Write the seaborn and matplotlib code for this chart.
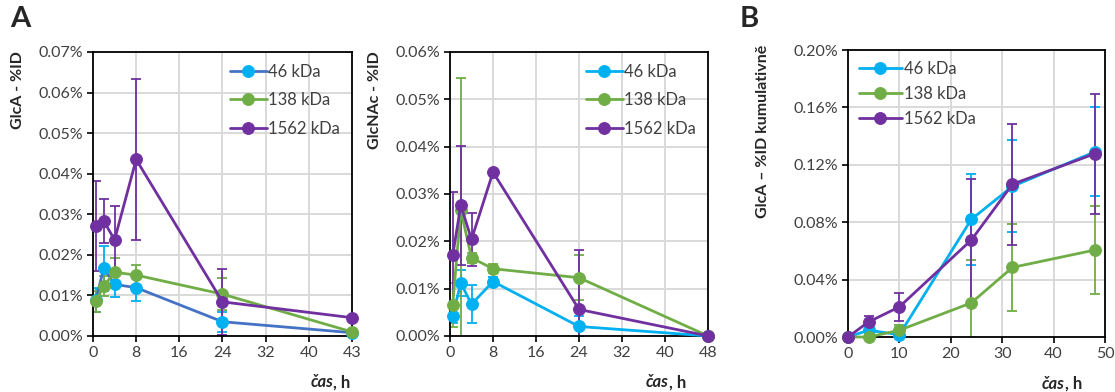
import numpy as np
import pandas as pd
import matplotlib
matplotlib.use("Agg")
import matplotlib.pyplot as plt
import seaborn as sns
from matplotlib.ticker import FuncFormatter, MultipleLocator

# ---------------- data (values in % ID) ----------------
labels = ["46 kDa", "138 kDa", "1562 kDa"]

t_a = [0.5, 2, 4, 8, 24, 48]
glca_46 = [0.0088, 0.0167, 0.0127, 0.0119, 0.0035, 0.0008]
glca_46_err = [0.0030, 0.0055, 0.0030, 0.0034, 0.0025, 0.0002]
glca_138 = [0.0085, 0.0123, 0.0157, 0.0150, 0.0103, 0.0010]
glca_138_err = [0.0025, 0.0025, 0.0035, 0.0025, 0.0040, 0.0002]
glca_1562 = [0.0271, 0.0283, 0.0237, 0.0435, 0.0084, 0.0045]
glca_1562_err = [0.0112, 0.0055, 0.0083, 0.0199, 0.0082, 0.0002]

glcnac_46 = [0.0042, 0.0112, 0.0067, 0.0115, 0.0020, 0.0000]
glcnac_46_err = [0.0015, 0.0028, 0.0040, 0.0010, 0.0023, 0.0000]
glcnac_138 = [0.0065, 0.0266, 0.0165, 0.0142, 0.0123, 0.0000]
glcnac_138_err = [0.0046, 0.0279, 0.0010, 0.0010, 0.0047, 0.0000]
glcnac_1562 = [0.0170, 0.0276, 0.0204, 0.0346, 0.0056, 0.0000]
glcnac_1562_err = [0.0134, 0.0126, 0.0056, 0.0003, 0.0125, 0.0000]

t_b = [0, 4, 10, 24, 32, 48]
cum_46 = [0.0, 0.0047, 0.0016, 0.0820, 0.1050, 0.1290]
cum_46_err = [0.0, 0.0020, 0.0010, 0.0318, 0.0320, 0.0310]
cum_138 = [0.0, 0.0000, 0.0047, 0.0238, 0.0485, 0.0606]
cum_138_err = [0.0, 0.0005, 0.0040, 0.0302, 0.0303, 0.0308]
cum_1562 = [0.0, 0.0105, 0.0210, 0.0676, 0.1065, 0.1277]
cum_1562_err = [0.0, 0.0042, 0.0100, 0.0424, 0.0422, 0.0420]

# ---------------- style ----------------
sns.set_theme(style="white")
plt.rcParams["font.family"] = ["Lato", "DejaVu Sans"]

purple = "#7030A0"
green = "#70AD47"
cyan = "#00B0F0"
blue = "#4472C4"


def draw(ax, t, series, errs, line_cols, face_cols, err_cols):
    for vals, err, name, lc, fc, ec in zip(series, errs, labels, line_cols, face_cols, err_cols):
        ax.errorbar(t, vals, yerr=err, fmt="none", ecolor=ec, elinewidth=1.3,
                    capsize=3.5, capthick=1.3, zorder=2)
        sns.lineplot(x=t, y=vals, ax=ax, color=lc, linewidth=2, marker="o",
                     markersize=8.5, markerfacecolor=fc, markeredgecolor=fc,
                     label=name, clip_on=False, zorder=3)


def style(ax, xmax, xstep, ymax, ystep, xticklabels=None):
    ax.set_xlim(0, xmax)
    ax.set_ylim(0, ymax)
    ax.xaxis.set_major_locator(MultipleLocator(xstep))
    ax.yaxis.set_major_locator(MultipleLocator(ystep))
    ax.yaxis.set_major_formatter(FuncFormatter(lambda v, p: f"{v:.2f}%"))
    if xticklabels is not None:
        ax.set_xticks(np.arange(0, xmax + 0.1, xstep))
        ax.set_xticklabels(xticklabels)
    ax.grid(True, color="#D9D9D9", linewidth=1.4)
    ax.set_axisbelow(True)
    for s in ax.spines.values():
        s.set_color("black")
        s.set_linewidth(1.3)
    ax.tick_params(axis="both", direction="out", length=4, width=1.2,
                   color="black", labelsize=11.5, labelcolor="#404040",
                   left=True, bottom=True, pad=3)
    ax.set_xlabel("")
    ax.set_ylabel("")


fig = plt.figure(figsize=(11.15, 3.92), dpi=100)
ax1 = fig.add_axes([0.0834, 0.143, 0.2323, 0.7245])
ax2 = fig.add_axes([0.4036, 0.143, 0.2314, 0.7245])
ax3 = fig.add_axes([0.7605, 0.1403, 0.2305, 0.732])

draw(ax1, t_a, [glca_46, glca_138, glca_1562],
     [glca_46_err, glca_138_err, glca_1562_err],
     [blue, green, purple], [cyan, green, purple], [cyan, green, purple])
style(ax1, 48, 8, 0.07, 0.01, ["0", "8", "16", "24", "32", "40", "43"])
ax1.legend(loc="upper right", frameon=False, fontsize=12, handlelength=2.2,
           handletextpad=0.1, labelspacing=0.75, borderaxespad=0.3,
           labelcolor="#404040")

draw(ax2, t_a, [glcnac_46, glcnac_138, glcnac_1562],
     [glcnac_46_err, glcnac_138_err, glcnac_1562_err],
     [cyan, green, purple], [cyan, green, purple], [cyan, green, purple])
style(ax2, 48, 8, 0.06, 0.01)
ax2.legend(loc="upper right", frameon=False, fontsize=12, handlelength=2.2,
           handletextpad=0.1, labelspacing=0.75, borderaxespad=0.3,
           labelcolor="#404040")

draw(ax3, t_b, [cum_46, cum_138, cum_1562],
     [cum_46_err, cum_138_err, cum_1562_err],
     [cyan, green, purple], [cyan, green, purple], [cyan, green, purple])
style(ax3, 50, 10, 0.20, 0.04)
ax3.legend(loc="upper left", frameon=False, fontsize=12, handlelength=2.6,
           handletextpad=0.1, labelspacing=0.55, borderaxespad=0.25,
           labelcolor="#404040")

# panel letters and axis titles
fig.text(0.009, 0.985, "A", fontsize=21, fontweight="bold", va="top", ha="left")
fig.text(0.663, 0.985, "B", fontsize=21, fontweight="bold", va="top", ha="left")

fig.text(0.016, 0.87, "GlcA - %ID", rotation=90, fontsize=11.5, fontweight="bold",
         va="top", ha="center")
fig.text(0.336, 0.87, "GlcNAc - %ID", rotation=90, fontsize=11.5, fontweight="bold",
         va="top", ha="center")
fig.text(0.684, 0.885, "GlcA – %ID kumulativně", rotation=90, fontsize=11.5,
         fontweight="bold", va="top", ha="center")

fig.text(0.299, 0.005, "čas", fontsize=12, fontweight="bold", fontstyle="italic",
         ha="right", va="bottom")
fig.text(0.299, 0.005, ", h", fontsize=12, fontweight="bold", ha="left", va="bottom")
fig.text(0.6, 0.005, "čas", fontsize=12, fontweight="bold", fontstyle="italic",
         ha="right", va="bottom")
fig.text(0.6, 0.005, ", h", fontsize=12, fontweight="bold", ha="left", va="bottom")
fig.text(0.955, 0.0, "čas", fontsize=12, fontweight="bold", fontstyle="italic",
         ha="right", va="bottom")
fig.text(0.955, 0.0, ", h", fontsize=12, fontweight="bold", ha="left", va="bottom")

fig.savefig("out.png", dpi=100)
